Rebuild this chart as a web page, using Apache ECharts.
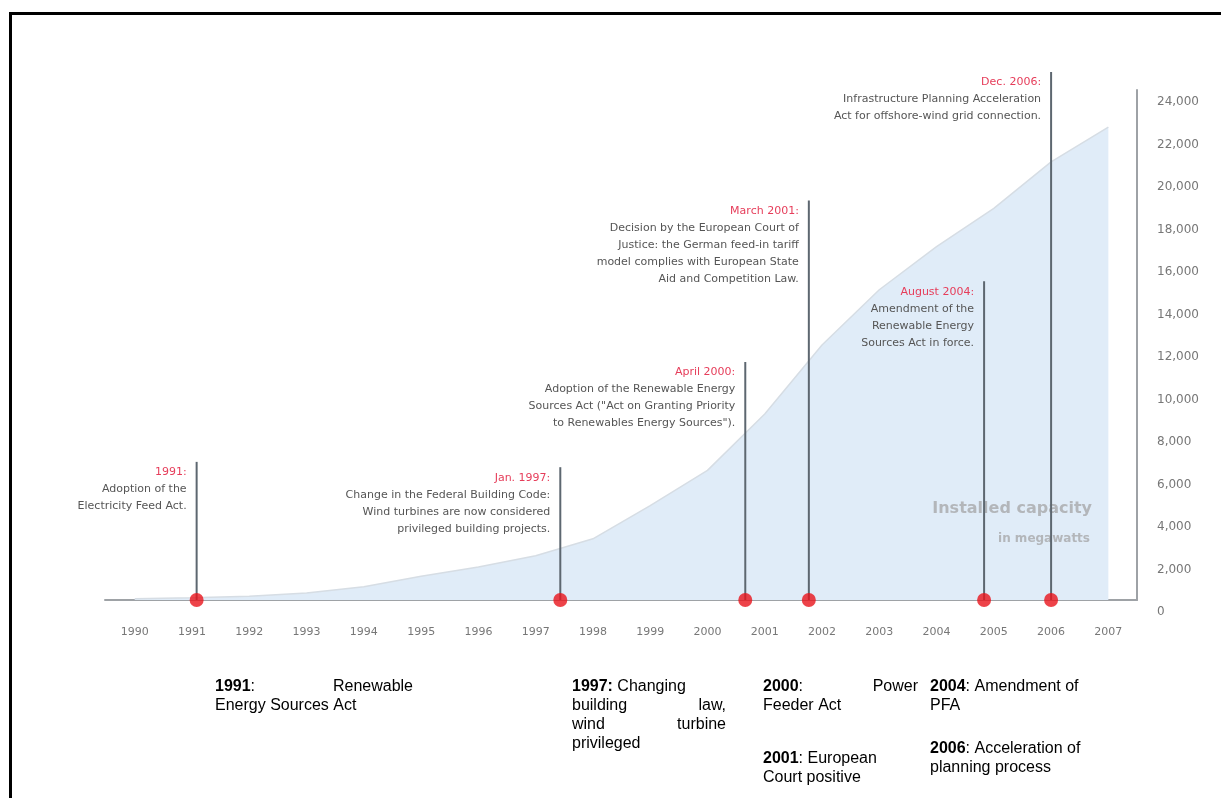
<!DOCTYPE html>
<html>
<head>
<meta charset="utf-8">
<script src="https://cdn.jsdelivr.net/npm/echarts@6/dist/echarts.min.js"></script>
<style>
  html, body { margin: 0; padding: 0; background: #fff; }
  #main { width: 1221px; height: 798px; }
</style>
</head>
<body>
<div id="main"></div>
<script>
// installed wind capacity, MW
const years = [1990, 1991, 1992, 1993, 1994, 1995, 1996, 1997, 1998, 1999, 2000, 2001, 2002, 2003, 2004, 2005, 2006, 2007];
const capacity = [60, 110, 180, 330, 620, 1120, 1550, 2080, 2880, 4440, 6100, 8750, 12000, 14600, 16630, 18430, 20620, 22250];
const yTicks = [0, 2000, 4000, 6000, 8000, 10000, 12000, 14000, 16000, 18000, 20000, 22000, 24000];

// events on the timeline (x in years, line height in MW)
const eventX = [1991.08, 1997.43, 2000.66, 2001.77, 2004.83, 2006.0];
const eventTop = [6500, 6250, 11200, 18800, 15000, 24850];
const eventDate = ['1991:', 'Jan. 1997:', 'April 2000:', 'March 2001:', 'August 2004:', 'Dec. 2006:'];
const eventText = [
  'Adoption of the\nElectricity Feed Act.',
  'Change in the Federal Building Code:\nWind turbines are now considered\nprivileged building projects.',
  'Adoption of the Renewable Energy\nSources Act ("Act on Granting Priority\nto Renewables Energy Sources").',
  'Decision by the European Court of\nJustice: the German feed-in tariff\nmodel complies with European State\nAid and Competition Law.',
  'Amendment of the\nRenewable Energy\nSources Act in force.',
  'Infrastructure Planning Acceleration\nAct for offshore-wind grid connection.'
];

// notes under the chart ('~' = justified line: left part ~ right part)
const notes = [
  { x: 215, y: 679, w: 198, lines: ['{b|1991}:~Renewable', 'Energy Sources Act'] },
  { x: 572, y: 679, w: 154, lines: ['{b|1997:} Changing', 'building~law,', 'wind~turbine', 'privileged'] },
  { x: 763, y: 679, w: 155, lines: ['{b|2000}:~Power', 'Feeder Act'] },
  { x: 763, y: 751, w: 155, lines: ['{b|2001}: European', 'Court positive'] },
  { x: 930, y: 679, w: 165, lines: ['{b|2004}: Amendment of', 'PFA'] },
  { x: 930, y: 741, w: 165, lines: ['{b|2006}: Acceleration of', 'planning process'] }
];

const EV_FONT = 'DejaVu Sans';

const chart = echarts.init(document.getElementById('main'));

const areaData = years.map((y, i) => [y, capacity[i]]);
const eventData = eventX.map((x, i) => [x, eventTop[i]]);
const dotData = eventX.map(x => [x, 0]);

const noteStyle = {
  fill: '#000',
  font: '16px "Liberation Sans", Arial, sans-serif',
  rich: { b: { fontWeight: 'bold', fontSize: 16, fontFamily: 'Liberation Sans', fill: '#000' } }
};

const noteEls = [];
notes.forEach(n => {
  n.lines.forEach((ln, k) => {
    const parts = ln.split('~');
    const y = n.y + k * 19;
    noteEls.push({ type: 'text', left: n.x, top: y, z: 10, style: Object.assign({ text: parts[0] }, noteStyle) });
    if (parts.length > 1) {
      noteEls.push({ type: 'text', right: 1221 - n.x - n.w, top: y, z: 10, style: Object.assign({ text: parts[1] }, noteStyle) });
    }
  });
});

const option = {
  backgroundColor: '#fff',
  animation: false,
  grid: { left: 105, right: 84, top: 90, bottom: 198, containLabel: false },
  xAxis: {
    type: 'value',
    min: 1989.48,
    max: 2007.5,
    splitLine: { show: false },
    axisTick: { show: false },
    axisLine: { lineStyle: { color: '#9ea2a6', width: 2 } },
    axisLabel: {
      customValues: years,
      margin: 27,
      color: '#777',
      fontFamily: EV_FONT,
      fontSize: 11,
      formatter: v => String(v)
    }
  },
  yAxis: {
    type: 'value',
    position: 'right',
    min: 0,
    max: 24000,
    interval: 2000,
    splitLine: { show: false },
    axisTick: { show: false },
    axisLine: { show: true, lineStyle: { color: '#9ea2a6', width: 2 } },
    axisLabel: {
      customValues: yTicks,
      margin: 20,
      color: '#777',
      fontFamily: EV_FONT,
      fontSize: 12,
      verticalAlign: 'top',
      lineHeight: 24,
      formatter: v => v.toLocaleString('en-US')
    }
  },
  graphic: [
    { type: 'rect', z: 0, shape: { x: 10.5, y: 13.5, width: 1300, height: 900 }, style: { fill: 'none', stroke: '#000', lineWidth: 3 } },
    { type: 'text', z: 3, right: 1221 - 1092, top: 501, style: { text: 'Installed capacity', fill: '#b3b6ba', font: 'bold 16px "DejaVu Sans"' } },
    { type: 'text', z: 3, right: 1221 - 1090, top: 533, style: { text: 'in megawatts', fill: '#b3b6ba', font: 'bold 12px "DejaVu Sans"' } }
  ].concat(noteEls),
  series: [
    {
      name: 'Installed capacity',
      type: 'line',
      data: areaData,
      symbol: 'none',
      z: 2,
      lineStyle: { color: '#d6dde4', width: 1.5 },
      areaStyle: { color: '#e0ecf8', opacity: 1 }
    },
    {
      name: 'Events',
      type: 'custom',
      data: eventData,
      z: 4,
      clip: false,
      renderItem: function (params, api) {
        const i = params.dataIndex;
        const base = api.coord([api.value(0), 0]);
        const top = api.coord([api.value(0), api.value(1)]);
        return {
          type: 'group',
          children: [
            {
              type: 'line',
              shape: { x1: base[0], y1: base[1], x2: top[0], y2: top[1] },
              style: { stroke: '#5d6770', lineWidth: 2 }
            },
            {
              type: 'text',
              x: top[0] - 10,
              y: top[1] + 2,
              style: {
                text: '{d|' + eventDate[i] + '}\n' + eventText[i],
                align: 'right',
                verticalAlign: 'top',
                fill: '#555',
                fontFamily: EV_FONT,
                fontSize: 11,
                lineHeight: 17,
                rich: { d: { fill: '#e63d5a', fontFamily: EV_FONT, fontSize: 11, lineHeight: 17 } }
              }
            }
          ]
        };
      }
    },
    {
      name: 'Event dots',
      type: 'scatter',
      data: dotData,
      z: 5,
      symbolSize: 14,
      itemStyle: { color: '#e8141c' }
    }
  ]
};

chart.setOption(option);
</script>
</body>
</html>
